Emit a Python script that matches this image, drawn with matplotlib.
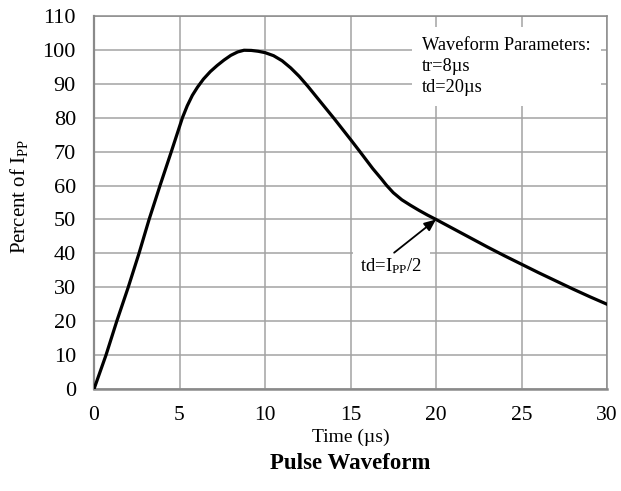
import matplotlib
matplotlib.use("Agg")
import matplotlib.pyplot as plt

# curve (time in us, percent of Ipp)
time_us = [0, 0.7, 1.33, 2.0, 2.63, 3.22, 3.86, 4.52, 5.17, 5.45, 5.75, 6.05, 6.4, 6.8,
           7.2, 7.6, 8.0, 8.4, 8.77, 9.2, 9.6, 10, 10.5, 11, 11.5, 12, 12.5, 13, 13.5,
           14.05, 15, 15.55, 16.3, 16.8, 17.1, 17.5, 18, 18.5, 19, 19.5, 20, 21, 22, 23,
           24, 25, 26, 27, 28, 29, 30]
percent = [0, 10, 20, 30, 40, 50, 60, 70, 80, 83.5, 86.6, 89.0, 91.4, 93.6,
           95.4, 97.0, 98.4, 99.4, 99.9, 99.85, 99.6, 99.2, 98.3, 96.8, 94.7, 92.2, 89.3, 86.2, 83.1,
           79.7, 73.6, 70, 65, 62, 60.1, 57.9, 55.8, 54.2, 52.7, 51.3, 50, 47.3, 44.6, 41.9,
           39.3, 36.8, 34.3, 31.9, 29.5, 27.2, 25]

xticks = [0, 5, 10, 15, 20, 25, 30]
yticks = [0, 10, 20, 30, 40, 50, 60, 70, 80, 90, 100, 110]

plt.rcParams['font.family'] = ['Liberation Serif', 'DejaVu Serif']
plt.rcParams['mathtext.fontset'] = 'custom'
plt.rcParams['mathtext.rm'] = 'Liberation Serif'
plt.rcParams['mathtext.it'] = 'Liberation Serif:italic'

fig = plt.figure(figsize=(6.21, 4.91), dpi=100)
ax = fig.add_axes([0.1514, 0.2077, 0.8261, 0.7597])

ax.plot(time_us, percent, color='black', lw=2.3, solid_joinstyle='round', zorder=3)

ax.set_xlim(0, 30)
ax.set_ylim(0, 110)
ax.set_xticks(xticks)
ax.set_yticks(yticks)
ax.grid(True, color='#a3a3a3', lw=1.1)
ax.set_axisbelow(True)
ax.tick_params(axis='y', length=0, pad=13, labelsize=16)
ax.tick_params(axis='x', length=0, pad=12, labelsize=15.5)
for s in ax.spines.values():
    s.set_color('#8a8a8a')
    s.set_linewidth(1.1)
ax.spines['left'].set_linewidth(1.6)
ax.spines['bottom'].set_linewidth(1.8)

ax.set_ylabel('Percent of I$_{\\mathrm{PP}}$', fontsize=15)
ax.yaxis.set_label_coords(-0.125, 0.517)

fig.text(0.5645, 0.110, 'Time (µs)', ha='center', va='center', fontsize=14)
fig.text(0.5645, 0.057, 'Pulse Waveform', ha='center', va='center',
         fontsize=16.5, fontweight='bold')

ax.text(19.2, 103.8, 'Waveform Parameters:\ntr=8µs\ntd=20µs', ha='left', va='top',
        fontsize=13.2, linespacing=1.32, zorder=4,
        bbox=dict(boxstyle='square,pad=0.55', fc='white', ec='none'))

ax.text(17.4, 36.2, 'td=I$_{\\mathrm{PP}}$/2', ha='center', va='center', fontsize=13.5,
        zorder=4, bbox=dict(boxstyle='square,pad=0.4', fc='white', ec='none'))
ax.annotate('', xy=(20, 50), xytext=(17.55, 40.2), zorder=5,
            arrowprops=dict(arrowstyle='-|>,head_length=0.7,head_width=0.3',
                            color='black', lw=1.3, shrinkA=0, shrinkB=0))

fig.savefig('out.png', dpi=100)
